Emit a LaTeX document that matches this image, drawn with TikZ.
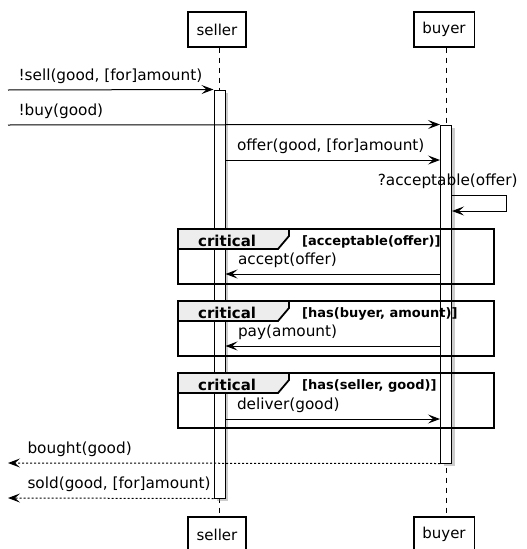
\documentclass[tikz,border=0pt]{standalone}
\usepackage{fontspec}
\setmainfont{DejaVu Sans}
\usetikzlibrary{arrows.meta,shadows}
\begin{document}
\begin{tikzpicture}[x=1pt,y=-1pt,
        actor/.style={draw, line width=1.3pt, inner xsep=8.5pt, minimum height=35pt, font=\fontsize{15}{18}\selectfont},
        life/.style={dash pattern=on 5pt off 5pt, line width=0.8pt},
        act/.style={draw, fill=white, line width=1pt, minimum width=11pt, inner sep=0pt, drop shadow={shadow xshift=3pt, shadow yshift=-3pt, opacity=.4}},
        msg/.style={line width=1pt, -{Stealth[length=12pt, width=9pt, inset=5pt]}},
        ret/.style={msg, dash pattern=on 2pt off 2pt},
        lbl/.style={inner sep=0pt, anchor=base west, yshift=9.5pt, font=\fontsize{15.3}{18}\selectfont},
        frame/.style={draw, line width=2pt},
        tab/.style={draw, fill=black!7, line width=1.8pt},
        cond/.style={inner sep=0pt, anchor=base west, font=\fontsize{13}{15}\selectfont\bfseries}]
        \useasboundingbox (0,0) rectangle (527,549);
        \node[actor] (seller) at (217,29.5) {seller};
        \node[actor] (buyer) at (444,29.5) {buyer};
        \node[actor] (sellerEnd) at (217,534.5) {seller};
        \node[actor] (buyerEnd) at (444,534.5) {buyer};
        \draw[life] (seller.south -| 219.5,0) -- (sellerEnd.north -| 219.5,0);
        \draw[life] (buyer.south -| 446,0) -- (buyerEnd.north -| 446,0);
        \node[act, minimum height=408pt] (sellerAct) at (219.5,294) {};
        \node[act, minimum height=338pt] (buyerAct) at (446,294) {};
        \foreach \y/\c in {229/{[acceptable(offer)]}, 301/{[has(buyer, amount)]}, 373/{[has(seller, good)]}} {
            \draw[frame] (178,\y) rectangle (494,\y+55);
            \filldraw[tab] (178,\y) -- (289,\y) -- (289,\y+7) -- (278,\y+20) -- (178,\y+20) -- cycle;
            \node[cond, font=\fontsize{15}{18}\selectfont\bfseries] at (198,\y+17) {critical};
            \node[cond] at (302,\y+16.5) {\c};
        }
        \coordinate (inSell) at (8,90);
        \coordinate (inBuy) at (8,125);
        \coordinate (outBought) at (8,463);
        \coordinate (outSold) at (8,498);
        \coordinate (loop) at (506,195);
        \draw[msg] (inSell) -- (sellerAct.north west) node[lbl, at start, xshift=10pt] {!sell(good, [for]amount)};
        \draw[msg] (inBuy) -- (buyerAct.north west) node[lbl, at start, xshift=10pt] {!buy(good)};
        \draw[msg] (sellerAct.east |- 0,160) -- (buyerAct.west |- 0,160) node[lbl, at start, xshift=11pt] {offer(good, [for]amount)};
        \draw[msg] (buyerAct.east |- loop) -| ([yshift=-16pt]loop) -- ([yshift=-16pt]buyerAct.east |- loop) node[lbl, at start, anchor=base east, xshift=12pt, yshift=16.5pt] {?acceptable(offer)};
        \draw[msg] (buyerAct.west |- 0,274) -- (sellerAct.east |- 0,274) node[lbl, at end, xshift=12pt] {accept(offer)};
        \draw[msg] (buyerAct.west |- 0,346) -- (sellerAct.east |- 0,346) node[lbl, at end, xshift=12pt] {pay(amount)};
        \draw[msg] (sellerAct.east |- 0,419) -- (buyerAct.west |- 0,419) node[lbl, at start, xshift=11pt] {deliver(good)};
        \draw[ret] (buyerAct.south west) -- (outBought) node[lbl, at end, xshift=19pt] {bought(good)};
        \draw[ret] (sellerAct.south west) -- (outSold) node[lbl, at end, xshift=19pt] {sold(good, [for]amount)};
    \end{tikzpicture}
\end{document}
